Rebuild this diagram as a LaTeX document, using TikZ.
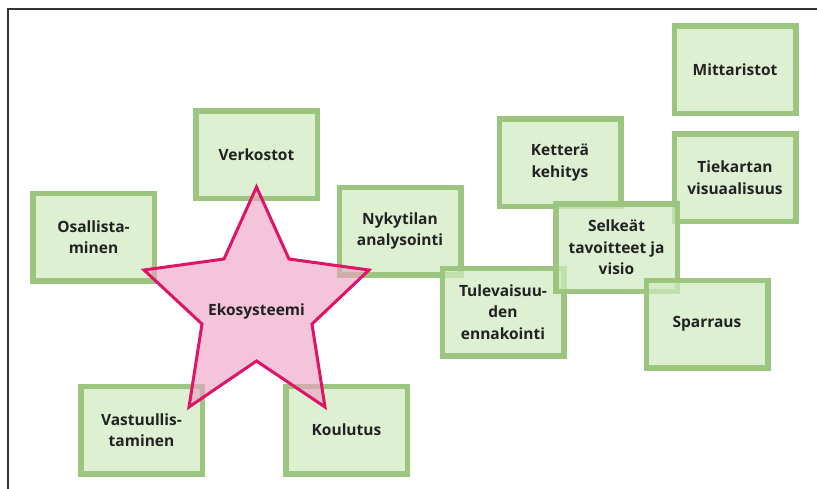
\documentclass[tikz,border=0pt]{standalone}
\usepackage{fontspec}
\setmainfont{Open Sans}
\begin{document}
\definecolor{boxline}{HTML}{9CC57F}
\definecolor{boxfill}{HTML}{D0EAC0}
\definecolor{starline}{HTML}{DE1468}
\definecolor{starfill}{HTML}{EEA0C3}
\definecolor{frameline}{HTML}{333333}
\definecolor{txt}{HTML}{222222}
\begin{tikzpicture}[x=1pt,y=-1pt,
  topic/.style={rectangle, draw=boxline, line width=5.5pt,
    fill=boxfill, fill opacity=0.72, text opacity=1,
    minimum width=121.5pt, minimum height=87.5pt, inner sep=0pt,
    align=center, text=txt,
    font=\fontsize{15.5}{21.5}\selectfont\bfseries},
  starshape/.style={draw=starline, line width=3pt, line join=miter,
    fill=starfill, fill opacity=0.62},
  label/.style={text=txt, font=\fontsize{15.5}{21.5}\selectfont\bfseries}]
\useasboundingbox (0,0) rectangle (817,488);
\clip (0,0) rectangle (817,488);
% outer frame, running past the right and bottom edges
\draw[frameline, line width=2pt] (7.5,9) rectangle (840,510);

% topic boxes, later ones lie over earlier ones
\node[topic] (verk) at (256.5,154.5) {Verkostot};
\node[topic] (osal) at (93.5,237) {Osallista-\\minen};
\node[topic] (vast) at (141.5,430) {Vastuullis-\\taminen};
\node[topic] (koul) at (346.5,430) {Koulutus};
\node[topic] (nyky) at (400,231) {Nykytilan\\analysointi};
\node[topic] (kett) at (560,162.5) {Ketterä\\kehitys};
\node[topic] (mitt) at (735,69.5) {Mittaristot};
\node[topic] (tiek) at (735,177.5) {Tiekartan\\visuaalisuus};
\node[topic] (tule) at (503,312) {Tulevaisuu-\\den\\ennakointi};
\node[topic] (selk) at (616.5,247.5) {Selkeät\\tavoitteet ja\\visio};
\node[topic] (spar) at (707,324) {Sparraus};

% five-pointed star in the middle of the left group
\coordinate (s1) at (256.5,187);
\coordinate (s2) at (289,259);
\coordinate (s3) at (369,270);
\coordinate (s4) at (312,324);
\coordinate (s5) at (325,407);
\coordinate (s6) at (256.5,361);
\coordinate (s7) at (189,407);
\coordinate (s8) at (202,324);
\coordinate (s9) at (144,270);
\coordinate (s10) at (224,259);
\draw[starshape] (s1) -- (s2) -- (s3) -- (s4) -- (s5) -- (s6) -- (s7)
  -- (s8) -- (s9) -- (s10) -- cycle;
\node[label] (eko) at (256.5,311) {Ekosysteemi};
\end{tikzpicture}
\end{document}
